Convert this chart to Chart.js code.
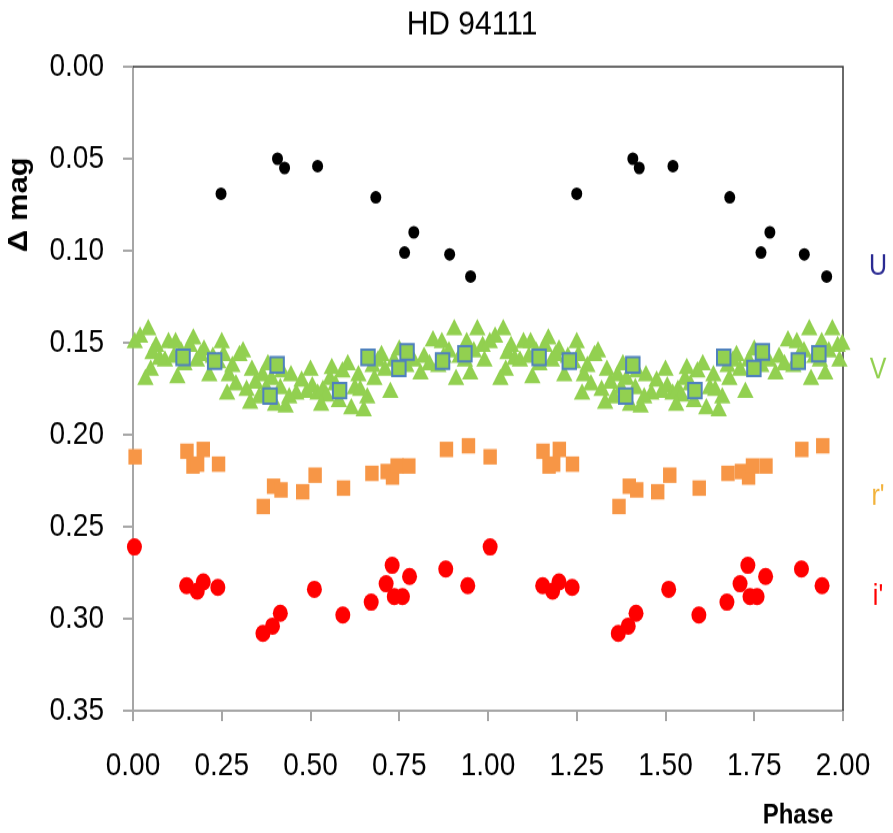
<!DOCTYPE html>
<html>
<head>
<meta charset="utf-8">
<title>HD 94111</title>
<script src="https://cdn.jsdelivr.net/npm/chart.js@4.4.1/dist/chart.umd.min.js"></script>
<style>
  html, body { margin: 0; padding: 0; background: #fff; }
  #page { width: 893px; height: 833px; position: relative; }
  /* the chart is drawn a bit flatter and stretched back up, like the original export */
  #wrap { position: absolute; left: 0; top: 0; width: 893px; height: 724px;
          transform: scaleY(1.15); transform-origin: 0 0; }
  canvas { display: block; }
</style>
</head>
<body>
<div id="page"><div id="wrap"><canvas id="lc" width="893" height="724"></canvas></div></div>
<script>
const titleText = "HD 94111";
const xTitle = "Phase";
const yTitle = "\u0394 mag";

// U band
const uPhase = [0.248, 0.407, 0.427, 0.520, 0.684, 0.765, 0.791, 0.892, 0.951,
                1.250, 1.408, 1.426, 1.521, 1.681, 1.769, 1.794, 1.891, 1.954];
const uMag   = [0.069, 0.050, 0.055, 0.054, 0.071, 0.101, 0.090, 0.102, 0.114,
                0.069, 0.050, 0.055, 0.054, 0.071, 0.101, 0.090, 0.102, 0.114];

// V band, comparison points (squares)
const vSqPhase = [0.141, 0.230, 0.386, 0.406, 0.582, 0.662, 0.749, 0.772, 0.872, 0.935,
                  1.144, 1.229, 1.388, 1.408, 1.583, 1.664, 1.749, 1.773, 1.874, 1.932];
const vSqMag   = [0.158, 0.160, 0.179, 0.162, 0.176, 0.158, 0.164, 0.155, 0.160, 0.156,
                  0.158, 0.160, 0.179, 0.162, 0.176, 0.158, 0.164, 0.155, 0.160, 0.156];

// V band (triangles)
const vTriPhase = [
  0.005, 0.020, 0.035, 0.043, 0.055, 0.065, 0.075, 0.090, 0.100, 0.115, 0.125, 0.135, 0.145,
  0.160, 0.170, 0.180, 0.190, 0.200, 0.215, 0.225, 0.240, 0.255, 0.265, 0.280, 0.290, 0.300,
  0.310, 0.320, 0.335, 0.345, 0.355, 0.365, 0.375, 0.390, 0.400, 0.415, 0.430, 0.445, 0.460,
  0.475, 0.490, 0.505, 0.520, 0.535, 0.545, 0.555, 0.570, 0.590, 0.605, 0.615, 0.625, 0.635,
  0.650, 0.660, 0.675, 0.690, 0.700, 0.725, 0.735, 0.750, 0.770, 0.790, 0.810, 0.820, 0.835,
  0.845, 0.860, 0.875, 0.890, 0.905, 0.910, 0.920, 0.935, 0.950, 0.960, 0.970, 0.985,
  0.050, 0.120, 0.250, 0.270, 0.330, 0.380, 0.420, 0.440, 0.500, 0.530, 0.560, 0.580, 0.640,
  0.680, 0.710, 0.780, 0.870, 0.940, 0.990,
  1.005, 1.020, 1.035, 1.043, 1.055, 1.065, 1.075, 1.090, 1.100, 1.115, 1.125, 1.135, 1.145,
  1.160, 1.170, 1.180, 1.190, 1.200, 1.215, 1.225, 1.240, 1.255, 1.265, 1.280, 1.290, 1.300,
  1.310, 1.320, 1.335, 1.345, 1.355, 1.365, 1.375, 1.390, 1.400, 1.415, 1.430, 1.445, 1.460,
  1.475, 1.490, 1.505, 1.520, 1.535, 1.545, 1.555, 1.570, 1.590, 1.605, 1.615, 1.625, 1.635,
  1.650, 1.660, 1.675, 1.690, 1.700, 1.725, 1.735, 1.750, 1.770, 1.790, 1.810, 1.820, 1.835,
  1.845, 1.860, 1.875, 1.890, 1.905, 1.910, 1.920, 1.935, 1.950, 1.960, 1.970, 1.985,
  1.050, 1.120, 1.250, 1.270, 1.330, 1.380, 1.420, 1.440, 1.500, 1.530, 1.560, 1.580, 1.640,
  1.680, 1.710, 1.780, 1.870, 1.940, 1.990, 1.998
];
const vTriMag = [
  0.150, 0.147, 0.170, 0.143, 0.156, 0.152, 0.159, 0.160, 0.150, 0.158, 0.169, 0.155, 0.162,
  0.152, 0.148, 0.160, 0.157, 0.154, 0.168, 0.158, 0.161, 0.157, 0.178, 0.163, 0.173, 0.157,
  0.155, 0.176, 0.165, 0.172, 0.180, 0.168, 0.175, 0.170, 0.184, 0.175, 0.185, 0.168, 0.178,
  0.171, 0.177, 0.174, 0.178, 0.176, 0.179, 0.170, 0.173, 0.166, 0.162, 0.186, 0.175, 0.168,
  0.187, 0.180, 0.163, 0.160, 0.157, 0.177, 0.160, 0.154, 0.163, 0.160, 0.167, 0.158, 0.162,
  0.149, 0.163, 0.158, 0.155, 0.143, 0.170, 0.158, 0.160, 0.167, 0.155, 0.143, 0.152,
  0.165, 0.150, 0.150, 0.168, 0.183, 0.162, 0.166, 0.180, 0.165, 0.184, 0.164, 0.182, 0.176,
  0.170, 0.165, 0.157, 0.150, 0.150, 0.160,
  0.150, 0.147, 0.170, 0.143, 0.156, 0.152, 0.159, 0.160, 0.150, 0.158, 0.169, 0.155, 0.162,
  0.152, 0.148, 0.160, 0.157, 0.154, 0.168, 0.158, 0.161, 0.157, 0.178, 0.163, 0.173, 0.157,
  0.155, 0.176, 0.165, 0.172, 0.180, 0.168, 0.175, 0.170, 0.184, 0.175, 0.185, 0.168, 0.178,
  0.171, 0.177, 0.174, 0.178, 0.176, 0.179, 0.170, 0.173, 0.166, 0.162, 0.186, 0.175, 0.168,
  0.187, 0.180, 0.163, 0.160, 0.157, 0.177, 0.160, 0.154, 0.163, 0.160, 0.167, 0.158, 0.162,
  0.149, 0.163, 0.158, 0.155, 0.143, 0.170, 0.158, 0.160, 0.167, 0.155, 0.143, 0.152,
  0.165, 0.150, 0.150, 0.168, 0.183, 0.162, 0.166, 0.180, 0.165, 0.184, 0.164, 0.182, 0.176,
  0.170, 0.165, 0.157, 0.150, 0.150, 0.160, 0.151
];

// r' band
const rPhase = [0.006, 0.152, 0.169, 0.182, 0.198, 0.241, 0.367, 0.396, 0.417, 0.478, 0.513,
                0.593, 0.673, 0.716, 0.731, 0.744, 0.777, 0.883, 0.945,
                1.006, 1.155, 1.172, 1.185, 1.201, 1.238, 1.369, 1.398, 1.419, 1.478, 1.512,
                1.595, 1.676, 1.714, 1.734, 1.745, 1.783, 1.884, 1.943];
const rMag   = [0.212, 0.209, 0.217, 0.216, 0.208, 0.216, 0.239, 0.228, 0.230, 0.231, 0.222,
                0.229, 0.221, 0.220, 0.223, 0.217, 0.217, 0.208, 0.206,
                0.212, 0.209, 0.217, 0.216, 0.208, 0.216, 0.239, 0.228, 0.230, 0.231, 0.222,
                0.229, 0.221, 0.220, 0.223, 0.217, 0.217, 0.208, 0.206];

// i' band
const iPhase = [0.004, 0.151, 0.181, 0.198, 0.239, 0.366, 0.393, 0.415, 0.511, 0.591,
                0.671, 0.713, 0.730, 0.736, 0.759, 0.779, 0.881, 0.943,
                1.006, 1.154, 1.182, 1.200, 1.237, 1.367, 1.395, 1.417, 1.509, 1.594,
                1.673, 1.710, 1.732, 1.738, 1.758, 1.782, 1.883, 1.941];
const iMag   = [0.261, 0.282, 0.285, 0.280, 0.283, 0.308, 0.304, 0.297, 0.284, 0.298,
                0.291, 0.281, 0.271, 0.288, 0.288, 0.277, 0.273, 0.282,
                0.261, 0.282, 0.285, 0.280, 0.283, 0.308, 0.304, 0.297, 0.284, 0.298,
                0.291, 0.281, 0.271, 0.288, 0.288, 0.277, 0.273, 0.282];

// band names written at the right of the plot
const bandNames  = ["U", "V", "r'", "i'"];
const bandLabelY = [0.109, 0.165, 0.234, 0.288];
const bandColors = ["#2a2a92", "#92d050", "#f2b23a", "#ff0000"];

const tickFont = '"Liberation Sans", Arial, sans-serif';
const boldFont = '"Liberation Sans", Arial, sans-serif';

function pts(xs, ys) {
  return xs.map((x, i) => ({ x: x, y: ys[i] }));
}

// title, axis titles, band names and the dark top/right frame
const extras = {
  id: "extras",
  beforeDatasetsDraw(chart) {
    const { ctx, chartArea: a } = chart;
    ctx.save();
    ctx.strokeStyle = "#3a3a3a";
    ctx.lineWidth = 1.5;
    ctx.beginPath();
    ctx.moveTo(a.left, a.top);
    ctx.lineTo(a.right, a.top);
    ctx.lineTo(a.right, a.bottom);
    ctx.stroke();
    ctx.restore();
  },
  afterDraw(chart) {
    const { ctx, chartArea: a, scales } = chart;
    ctx.save();
    ctx.fillStyle = "#000";
    ctx.textAlign = "center";
    ctx.textBaseline = "middle";
    ctx.font = "30px " + tickFont;
    ctx.fillText(titleText, 472, 22);

    ctx.font = "bold 24px " + boldFont;
    ctx.fillText(xTitle, 798, 709);

    ctx.save();
    ctx.translate(20, 178);
    ctx.rotate(-Math.PI / 2);
    ctx.font = "bold 27px " + boldFont;
    ctx.fillText(yTitle, 0, 0);
    ctx.restore();

    ctx.font = "25px " + boldFont;
    bandNames.forEach((n, i) => {
      ctx.fillStyle = bandColors[i];
      ctx.fillText(n, a.right + 35, scales.y.getPixelForValue(bandLabelY[i]));
    });
    ctx.restore();
  }
};

new Chart(document.getElementById("lc"), {
  type: "scatter",
  data: {
    datasets: [
      {
        label: "U",
        data: pts(uPhase, uMag),
        pointStyle: "circle",
        pointRadius: 5.5,
        backgroundColor: "#000",
        borderWidth: 0,
        clip: false
      },
      {
        label: "V comp",
        data: pts(vSqPhase, vSqMag),
        pointStyle: "rect",
        pointRadius: 9.5,
        backgroundColor: "#92d050",
        borderColor: "#4f81bd",
        borderWidth: 2,
        clip: false
      },
      {
        label: "V",
        data: pts(vTriPhase, vTriMag),
        pointStyle: "triangle",
        pointRadius: 9.5,
        backgroundColor: "#92d050",
        borderWidth: 0,
        clip: false
      },
      {
        label: "r'",
        data: pts(rPhase, rMag),
        pointStyle: "rect",
        pointRadius: 9.5,
        backgroundColor: "#f79646",
        borderWidth: 0,
        clip: false
      },
      {
        label: "i'",
        data: pts(iPhase, iMag),
        pointStyle: "circle",
        pointRadius: 7.5,
        backgroundColor: "#ff0000",
        borderWidth: 0,
        clip: false
      }
    ]
  },
  options: {
    responsive: false,
    animation: false,
    events: [],
    layout: { padding: { top: 58, right: 50, left: 0, bottom: 0 } },
    plugins: {
      legend: { display: false },
      tooltip: { enabled: false },
      title: { display: false }
    },
    scales: {
      x: {
        type: "linear",
        min: 0,
        max: 2,
        afterFit(s) { s.height = 106; },
        ticks: {
          stepSize: 0.25,
          padding: 22,
          color: "#000",
          font: { family: tickFont, size: 28 },
          callback: v => v.toFixed(2)
        },
        grid: { drawOnChartArea: false, drawTicks: true, tickLength: 9, color: "#a6a6a6", lineWidth: 2 },
        border: { display: true, color: "#a6a6a6", width: 2 }
      },
      y: {
        type: "linear",
        reverse: true,
        min: 0,
        max: 0.35,
        afterFit(s) { s.width = 133; },
        ticks: {
          stepSize: 0.05,
          padding: 19,
          color: "#000",
          font: { family: tickFont, size: 28 },
          callback: v => v.toFixed(2)
        },
        grid: { drawOnChartArea: false, drawTicks: true, tickLength: 10, color: "#a6a6a6", lineWidth: 2 },
        border: { display: true, color: "#a6a6a6", width: 2 }
      }
    }
  },
  plugins: [extras]
});
</script>
</body>
</html>
